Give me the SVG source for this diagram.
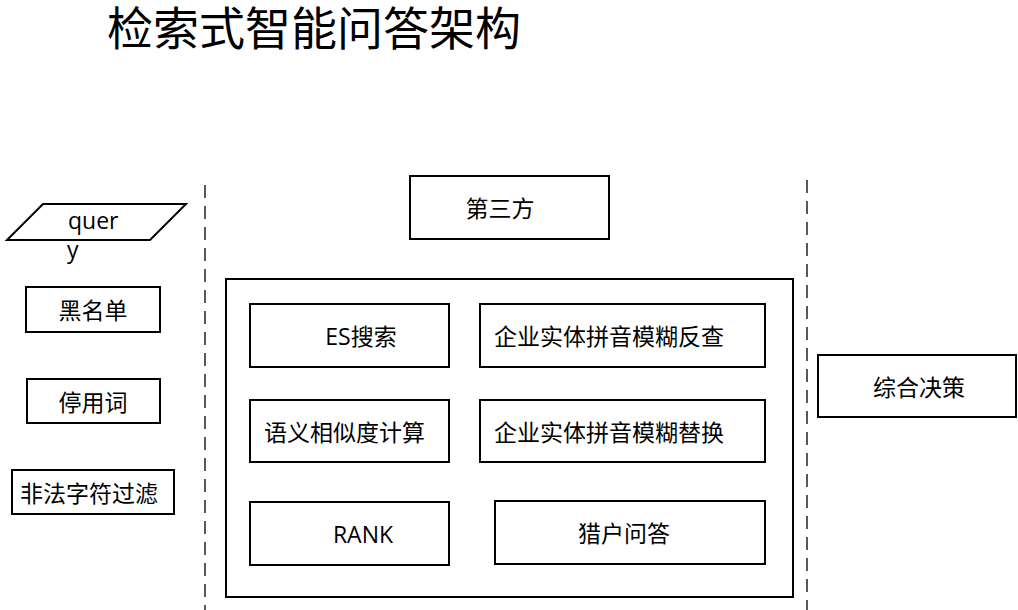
<svg xmlns="http://www.w3.org/2000/svg" width="1018" height="610" viewBox="0 0 1018 610">
<style>
.b{fill:#fff;stroke:#000;stroke-width:2}
.t{font-family:"Open Sans","Noto Sans CJK SC",sans-serif;font-size:23px;fill:#000;dominant-baseline:central}
.c{text-anchor:middle}
.d{stroke:#000;stroke-width:1.3;stroke-dasharray:13 8;fill:none}
</style>
<rect width="1018" height="610" fill="#fff"/>
<text x="107" y="45" style="font-family:'Noto Sans CJK SC',sans-serif;font-size:46px;fill:#000">检索式智能问答架构</text>
<g id="connectors">
<line class="d" x1="205" y1="185" x2="205" y2="610"/>
<line class="d" x1="807" y1="180" x2="807" y2="610"/>
</g>
<g id="query">
<polygon class="b" points="43,204 186,204 150,240 7,240"/>
<text class="t" x="68" y="220">quer</text>
<text class="t" x="67" y="249">y</text>
</g>
<g id="blacklist"><rect class="b" x="26" y="287" width="134" height="45"/><text class="t c" x="93" y="310">黑名单</text></g>
<g id="stopwords"><rect class="b" x="27" y="379" width="133" height="44"/><text class="t c" x="93" y="402">停用词</text></g>
<g id="filter"><rect class="b" x="12" y="470" width="162" height="44"/><text class="t c" x="89" y="493">非法字符过滤</text></g>
<g id="thirdparty"><rect class="b" x="410" y="176" width="199" height="63"/><text class="t c" x="500" y="208">第三方</text></g>
<g id="container"><rect class="b" x="226" y="279" width="567" height="318"/></g>
<g id="es"><rect class="b" x="250" y="304" width="199" height="63"/><text class="t c" x="361" y="336">ES搜索</text></g>
<g id="pinyin-check"><rect class="b" x="480" y="304" width="285" height="63"/><text class="t" x="494" y="336">企业实体拼音模糊反查</text></g>
<g id="semantic"><rect class="b" x="250" y="400" width="199" height="62"/><text class="t" x="264" y="432">语义相似度计算</text></g>
<g id="pinyin-replace"><rect class="b" x="480" y="400" width="285" height="62"/><text class="t" x="494" y="432">企业实体拼音模糊替换</text></g>
<g id="rank"><rect class="b" x="250" y="502" width="199" height="63"/><text class="t c" x="363" y="534">RANK</text></g>
<g id="orion"><rect class="b" x="495" y="501" width="270" height="63"/><text class="t c" x="624" y="533">猎户问答</text></g>
<g id="decision"><rect class="b" x="818" y="355" width="198" height="62"/><text class="t c" x="919" y="387">综合决策</text></g>
</svg>
